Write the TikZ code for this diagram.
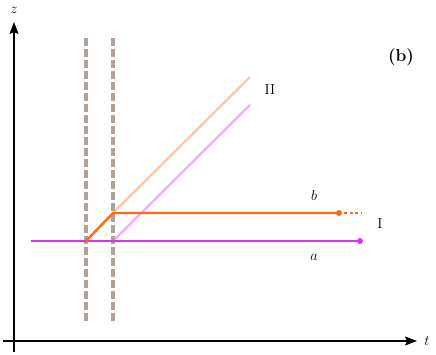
\documentclass[tikz,border=0pt]{standalone}
\usetikzlibrary{arrows.meta}
\definecolor{magv}{RGB}{214,51,240}
\definecolor{orng}{RGB}{255,106,16}
\definecolor{lorng}{RGB}{255,200,168}
\definecolor{lviol}{RGB}{236,178,248}
\definecolor{dgray}{RGB}{176,162,152}
\begin{document}
\begin{tikzpicture}[x=1pt,y=1pt,
  lbl/.style={font=\fontsize{14.4}{16}\selectfont, inner sep=0pt},
  axisline/.style={line width=1.1pt,-{Stealth[length=12pt,width=9pt,inset=2pt]}},
  wall/.style={dgray,line width=4pt,dash pattern=on 7.5pt off 3.5pt},
  world/.style={line width=2.4pt},
  ghost/.style={line width=2.4pt},
  endpt/.style={circle,fill,inner sep=0pt,minimum size=6pt}]
\useasboundingbox (0,0) rectangle (436,355);
% axes
\coordinate (tstart) at (3,14);
\coordinate (tend) at (417,14);
\coordinate (zstart) at (14,3);
\coordinate (zend) at (14,333);
\draw[axisline] (tstart) -- (tend);
\draw[axisline] (zstart) -- (zend);
\node[lbl] (tl) at (427,14) {$t$};
\node[lbl] (zl) at (14,345) {$z$};
% walls
\coordinate (w1t) at (86,316.5);
\coordinate (w1b) at (86,34);
\coordinate (w2t) at (113,316.5);
\coordinate (w2b) at (113,34);
% events
\coordinate (aL) at (31,114);
\coordinate (A) at (86,114);
\coordinate (B) at (113,142);
\coordinate (C) at (113,114);
\coordinate (IIo) at (250,278);
\coordinate (IIv) at (250,250);
\node[endpt,orng] (bend) at (339,142) {};
\coordinate (bdots) at (361,142);
\node[endpt,magv] (aend) at (360,114) {};
% ghost lines
\draw[ghost,lorng] (B) -- (IIo);
\draw[ghost,lviol] (C) -- (IIv);
% walls drawn over ghosts
\draw[wall] (w1t) -- (w1b);
\draw[wall] (w2t) -- (w2b);
% world lines
\draw[world,magv] (aL) -- (aend.center);
\draw[world,orng,line join=round] (A) -- (B) -- (bend.center);
\draw[orng,line width=2.4pt,dash pattern=on 3pt off 2.5pt] (bend.center) ++(5,0) -- (bdots);
% labels
\node[lbl] (IIl) at (270,265) {II};
\node[lbl] (bl) at (314,159) {$b$};
\node[lbl] (Il) at (380,131) {I};
\node[lbl] (al) at (314,98) {$a$};
\node[lbl,font=\fontsize{17.28}{20}\selectfont] (pl) at (401,298) {\textbf{(b)}};
\end{tikzpicture}
\end{document}
